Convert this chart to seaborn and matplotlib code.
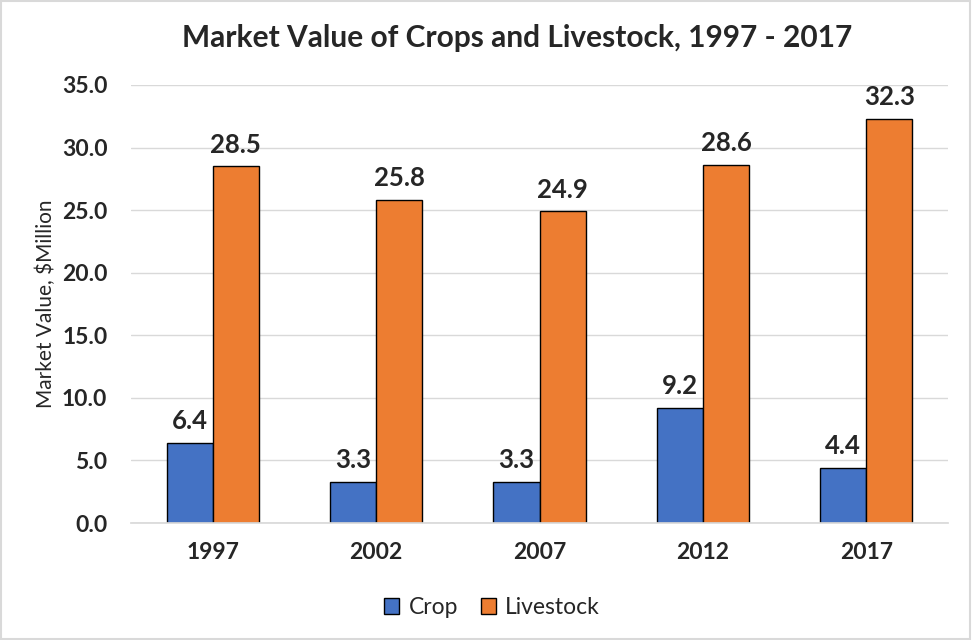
import pandas as pd
import seaborn as sns
import matplotlib.pyplot as plt
from matplotlib.patches import Rectangle

# data
years = ['1997', '2002', '2007', '2012', '2017']
crop = [6.4, 3.3, 3.3, 9.2, 4.4]
livestock = [28.5, 25.8, 24.9, 28.6, 32.3]

df = pd.DataFrame({
    'Year': years * 2,
    'Type': ['Crop'] * len(years) + ['Livestock'] * len(years),
    'Value': crop + livestock,
})

sns.set_theme(style='white')
plt.rcParams['font.family'] = ['Lato', 'DejaVu Sans']

fig = plt.figure(figsize=(9.72, 6.4), dpi=100)
ax = fig.add_axes([0.1348, 0.1828, 0.8405, 0.6844])

sns.barplot(data=df, x='Year', y='Value', hue='Type',
            palette=['#4472C4', '#ED7D31'], width=0.565,
            edgecolor='black', linewidth=1, saturation=1, ax=ax)

for c in ax.containers:
    ax.bar_label(c, fmt='%.1f', padding=7, fontsize=18.5, fontweight='bold')

ax.set_ylim(0, 35)
ax.set_yticks(range(0, 36, 5))
ax.set_yticklabels([f'{v:.1f}' for v in range(0, 36, 5)])
ax.yaxis.grid(True, color='#d9d9d9', linewidth=1)
ax.set_axisbelow(True)
for s in ['top', 'right', 'left']:
    ax.spines[s].set_visible(False)
ax.spines['bottom'].set_color('#d9d9d9')
ax.tick_params(axis='x', length=0, labelsize=16.5, pad=14)
ax.tick_params(axis='y', length=0, labelsize=16.5, pad=17)
for lab in ax.get_xticklabels() + ax.get_yticklabels():
    lab.set_fontweight('bold')

ax.set_xlabel('')
ax.set_ylabel('Market Value, \\$Million', fontsize=15, labelpad=4)
ax.set_title('Market Value of Crops and Livestock, 1997 - 2017',
             fontsize=21.5, fontweight='bold', pad=27, x=0.472)

ax.legend(loc='upper center', bbox_to_anchor=(0.442, -0.122), ncol=2,
          frameon=False, fontsize=16.5, handlelength=0.65, handleheight=0.65,
          columnspacing=1.0, handletextpad=0.4)

fig.patches.append(Rectangle((0.001, 0.001), 0.997, 0.997, transform=fig.transFigure,
                             fill=False, edgecolor='#d9d9d9', linewidth=1.5))

fig.savefig('out.png', dpi=100)
